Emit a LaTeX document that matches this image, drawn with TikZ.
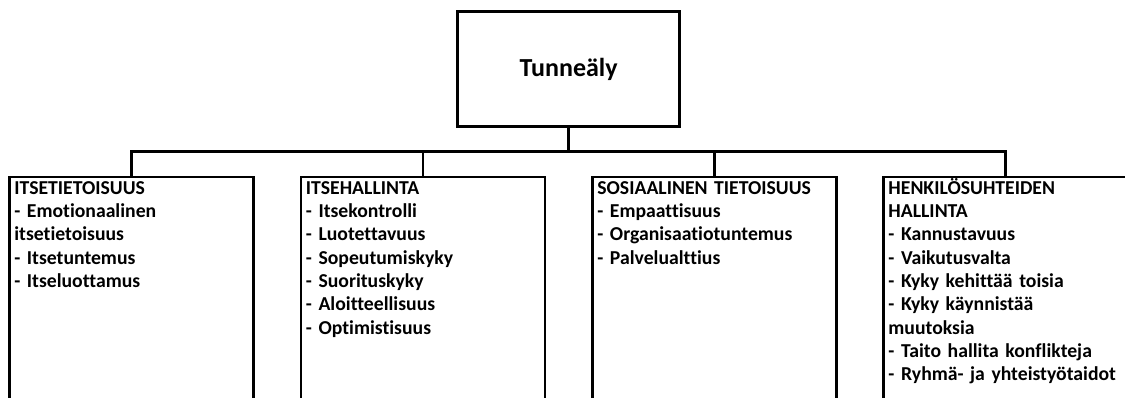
\documentclass[tikz,border=0pt]{standalone}
\usepackage{fontspec}
\setmainfont[Ligatures={NoCommon}]{Carlito}
\usepackage{tikz}
\usetikzlibrary{positioning}

\begin{document}
\begin{tikzpicture}[x=1pt,y=-1pt]
        \tikzset{topbox/.style = {shape=rectangle,draw,line width=2.5pt,minimum width=222pt,minimum height=115pt,font=\fontsize{26}{30}\selectfont\bfseries}};
        \tikzset{lowbox/.style = {shape=rectangle,draw,line width=2.5pt,minimum width=244pt,minimum height=260pt,anchor=north}};
        \tikzset{lowtext/.style = {anchor=base west,inner sep=0pt,text width=250pt,align=left,font=\fontsize{19.7}{23.3}\selectfont\bfseries}};
        \tikzset{edge/.style = {line width=2.5pt}};
        \useasboundingbox (0,0) rectangle (1125,398);
        \node[topbox] (tunne) at (568.6,69) {Tunneäly};
        \node[lowbox] (itse) at (131.6,176) {};
        \node[lowbox] (hall) at (423.2,176) {};
        \node[lowbox] (sos) at (714.6,176) {};
        \node[lowbox] (henk) at (1005.7,176) {};
        \node[lowtext] (itseT) at ([xshift=5.8pt,yshift=-18.3pt]itse.north west) {ITSETIETOISUUS\\- Emotionaalinen\\itsetietoisuus\\- Itsetuntemus\\- Itseluottamus};
        \node[lowtext] (hallT) at ([xshift=5.8pt,yshift=-18.3pt]hall.north west) {ITSEHALLINTA\\- Itsekontrolli\\- Luotettavuus\\- Sopeutumiskyky\\- Suorituskyky\\- Aloitteellisuus\\- Optimistisuus};
        \node[lowtext] (sosT) at ([xshift=5.8pt,yshift=-18.3pt]sos.north west) {SOSIAALINEN TIETOISUUS\\- Empaattisuus\\- Organisaatiotuntemus\\- Palvelualttius};
        \node[lowtext] (henkT) at ([xshift=5.8pt,yshift=-18.3pt]henk.north west) {HENKILÖSUHTEIDEN\\HALLINTA\\- Kannustavuus\\- Vaikutusvalta\\- Kyky kehittää toisia\\- Kyky käynnistää\\muutoksia\\- Taito hallita konflikteja\\- Ryhmä- ja yhteistyötaidot};
        \coordinate (bar) at (568.6,151.7);
        \draw[edge] (tunne.south) to (bar);
        \draw[edge] (itse.north) |- (henk.north |- bar) to (henk.north);
        \draw[edge] (hall.north) to (hall.north |- bar);
        \draw[edge] (sos.north) to (sos.north |- bar);
    \end{tikzpicture}
\end{document}
